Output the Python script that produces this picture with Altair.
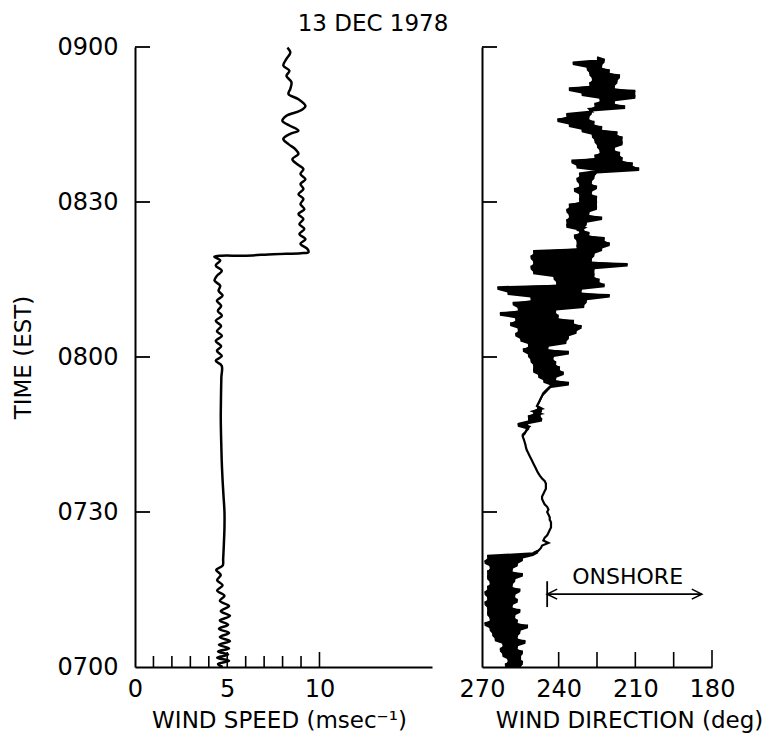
import altair as alt
import pandas as pd

# ---------------- data ----------------
title_text = "13 DEC 1978"
time_ticks = [0, 30, 60, 90, 120]            # minutes after 0700 EST
time_labels = ["0700", "0730", "0800", "0830", "0900"]

# wind speed trace (minutes after 0700, m/s), in drawing order
speed_minutes = [
    0.0, 0.6, 1.2, 1.8, 2.4, 3.0, 3.6, 4.3, 5.0, 5.8, 6.6, 7.4, 8.2, 9.0, 9.9,
    10.8, 11.8, 12.8, 13.8, 14.8, 15.8, 16.8, 17.8, 18.8, 19.6,
    21, 24, 27, 30, 33, 36, 40, 44, 48, 52, 56, 58.3,
    59.3, 60.2, 61.2, 62.1, 63.1, 64.1, 65.0, 66.0, 67.0, 68.0, 68.9, 69.9,
    70.9, 71.9, 72.8, 73.8, 74.8, 75.7, 76.7, 77.7, 78.7, 79.4,
    79.6, 79.6, 79.9, 80.1, 80.25,
    80.9, 81.9, 82.8, 83.8, 84.8, 85.7, 86.7, 87.7, 88.6, 89.6, 90.6, 91.5,
    92.5, 93.5, 94.4, 95.4, 96.4, 97.3, 98.3, 99.3, 100.2, 101.2, 102.2,
    103.2, 103.8, 104.8, 105.7, 106.7, 107.7, 108.6, 109.9, 110.9, 111.9,
    113.2, 114.4, 115.4, 116.4, 117.7, 118.96, 119.9,
]
speed_ms = [
    4.75, 4.5, 5.1, 4.45, 5.05, 4.5, 5.1, 4.55, 5.15, 4.6, 5.1, 4.55, 5.05, 4.6, 5.15,
    4.65, 5.1, 4.6, 4.85, 4.45, 4.75, 4.45, 4.65, 4.4, 4.75,
    4.78, 4.82, 4.85, 4.85, 4.8, 4.75, 4.7, 4.67, 4.65, 4.66, 4.68, 4.7,
    4.38, 4.71, 4.44, 4.67, 4.38, 4.71, 4.44, 4.67, 4.38, 4.71, 4.49, 4.67,
    4.44, 4.75, 4.53, 4.62, 4.31, 4.44, 4.71, 4.38, 4.62, 4.3,
    4.7, 5.9, 7.5, 9.0, 9.4,
    9.35, 8.97, 9.24, 8.91, 9.18, 8.91, 9.13, 8.86, 9.18, 8.97, 9.13, 8.86,
    9.13, 8.97, 9.24, 8.97, 9.13, 8.80, 8.53, 8.86, 8.70, 8.32, 8.04,
    8.42, 8.86, 8.37, 7.99, 8.21, 8.97, 9.24, 8.86, 8.32, 8.42,
    8.48, 8.21, 8.37, 8.04, 8.21, 8.42, 8.26,
]

# wind direction trace (deg), one reading every half minute from 0700
dir_step_minutes = 0.5
dir_deg = [
    # 0700 - 0722
    255, 261, 254, 260, 255, 262, 254, 263, 256, 262,
    253, 265, 256, 266, 255, 267, 252, 269, 256, 267,
    257, 268, 255, 268, 258, 269, 256, 268, 257, 269,
    255, 268, 258, 267, 257, 268, 254, 268, 258, 267,
    256, 269, 254, 268, 250,
    # 0722.5 - 0744.5
    248, 247, 246.5, 244, 246, 245.5, 244.5, 244, 243.5, 243,
    243, 243, 243.5, 243.5, 244, 244.5, 244, 244.5, 245.5, 246,
    246.5, 246.5, 246, 245.5, 245, 245, 245, 245.5, 246.5, 247.3,
    248, 248.5, 249, 249.5, 250, 250.5, 251, 251.5, 252, 252.5,
    252.8, 253, 253.3, 253.6, 254,
    # 0745 - 0759.5
    254, 253, 252.5, 251.5, 256, 252, 246.5, 252, 247, 250,
    246.5, 248.5, 248, 247.5, 247, 246.5, 246, 245, 244, 243,
    236, 246, 241, 248, 238, 250, 239.5, 250, 241, 251,
    # 0800 - 0832
    242, 252, 236, 254, 244, 252, 237, 255, 236, 257,
    233, 256, 231, 259, 234, 257, 240, 263, 241, 256,
    230, 258, 229, 251, 220, 260, 231, 264, 222, 241,
    224, 242, 226, 250, 226, 251, 213, 250, 227, 251,
    226, 250, 223, 233, 220, 233, 222, 234, 228, 232,
    230, 237, 229, 237, 223, 236, 228, 237, 225, 236,
    225, 232, 225, 232, 227,
    # 0832.5 - 0858
    234, 225, 232, 227, 233, 226, 232, 225, 208.5, 233,
    211, 235, 215, 226, 216, 224, 218, 225, 215, 226,
    215, 227, 217, 231, 223, 236, 226, 240.5, 228, 237,
    227, 228, 214, 226, 218, 224, 210, 231, 210, 236,
    218, 228, 217, 227, 216, 228, 220, 229, 223, 234.5,
    222, 225,
]
# quiet (smooth) stretch of the direction record, minutes after 0700
dir_quiet_minutes = [22, 45]

speed_tick_labels = [0, 5, 10]
speed_minor_ticks = [1, 2, 3, 4, 6, 7, 8, 9]
speed_major_ticks = [5, 10]
dir_tick_labels = [270, 240, 210, 180]
dir_minor_ticks = [255, 240, 225, 210, 195]
dir_end_tick = [180]
inner_time_ticks = [30, 60, 90, 120]

onshore_text = "ONSHORE"
onshore_bar_deg = [244.5]
onshore_end_deg = [184]
onshore_minutes = [14.1]
onshore_bar_minutes = [11.6, 16.6]
onshore_text_deg = [213]
onshore_text_minutes = [17.4]

# ---------------- chart ----------------
FONT = "DejaVu Sans"
H = 620
W1 = 297
W2 = 230

speed_df = pd.DataFrame({"minutes": speed_minutes, "speed": speed_ms,
                         "order": list(range(len(speed_ms)))})
dir_df = pd.DataFrame({"minutes": [i * dir_step_minutes for i in range(len(dir_deg))],
                       "deg": dir_deg})

y_scale = alt.Scale(domain=[0, 120], nice=False, zero=False)
xs_scale = alt.Scale(domain=[0, 16.1], nice=False, zero=False)
xd_scale = alt.Scale(domain=[180, 270], nice=False, zero=False, reverse=True)

labels_js = "[" + ",".join("'%s'" % s for s in time_labels) + "]"
ticks_js = "[" + ",".join(str(v) for v in time_ticks) + "]"
time_label_expr = labels_js + "[indexof(" + ticks_js + ", datum.value)]"

common_axis = dict(ticks=False, tickSize=0, grid=False, domain=True,
                   domainColor="black", domainWidth=2,
                   labelFont=FONT, labelFontSize=24, labelColor="black",
                   titleFont=FONT, titleFontSize=23, titleFontWeight="normal",
                   titleColor="black")

left_y_axis = alt.Axis(values=time_ticks, labelExpr=time_label_expr, labelPadding=17,
                       title="TIME (EST)", titleAngle=270, titleX=-112, titleY=310,
                       titleAlign="center", titleBaseline="middle", **common_axis)
left_x_axis = alt.Axis(values=speed_tick_labels, format="d", labelPadding=10,
                       labelFlush=False, title="WIND SPEED (msec⁻¹)",
                       titleX=144, titleY=60, titleAlign="center",
                       titleBaseline="alphabetic", **common_axis)
right_y_axis = alt.Axis(values=time_ticks, labels=False, title="", **common_axis)
right_x_axis = alt.Axis(values=dir_tick_labels, format="d", labelPadding=10,
                        labelFlush=False, title="WIND DIRECTION (deg)",
                        titleX=147, titleY=60, titleAlign="center",
                        titleBaseline="alphabetic", **common_axis)

# ---- left panel: wind speed ----
speed_line = alt.Chart(speed_df).mark_line(
    color="black", strokeWidth=2.5, interpolate="catmull-rom"
).encode(
    x=alt.X("speed:Q", scale=xs_scale, axis=left_x_axis),
    y=alt.Y("minutes:Q", scale=y_scale, axis=left_y_axis),
    order=alt.Order("order:Q"),
)

s_minor = alt.Chart(pd.DataFrame({"speed": speed_minor_ticks})).mark_rule(
    color="black", strokeWidth=1.6
).encode(x=alt.X("speed:Q", scale=xs_scale), y=alt.value(H), y2=alt.value(H - 11))
s_major = alt.Chart(pd.DataFrame({"speed": speed_major_ticks})).mark_rule(
    color="black", strokeWidth=1.6
).encode(x=alt.X("speed:Q", scale=xs_scale), y=alt.value(H), y2=alt.value(H - 15))
s_yticks = alt.Chart(pd.DataFrame({"minutes": inner_time_ticks})).mark_rule(
    color="black", strokeWidth=1.8
).encode(y=alt.Y("minutes:Q", scale=y_scale), x=alt.value(0), x2=alt.value(15))
title_mark = alt.Chart(pd.DataFrame({"txt": [title_text]})).mark_text(
    font=FONT, fontSize=23, color="black", align="center", baseline="alphabetic"
).encode(text="txt:N", x=alt.value(238), y=alt.value(-16))

left = alt.layer(speed_line, s_minor, s_major, s_yticks, title_mark).properties(
    width=W1, height=H)

# ---- right panel: wind direction ----
q0, q1 = dir_quiet_minutes
noisy_base = alt.Chart(dir_df).transform_filter(
    f"datum.minutes <= {q0 + 0.5} || datum.minutes >= {q1 - 0.5}"
).transform_calculate(
    part=f"datum.minutes > {q0 + 0.5} ? 'late' : 'early'"
)
dir_band = noisy_base.transform_window(
    lo="min(deg)", hi="max(deg)", frame=[0, 1], groupby=["part"],
    sort=[alt.SortField("minutes")]
).mark_area(color="black", orient="horizontal", opacity=1).encode(
    x=alt.X("lo:Q", scale=xd_scale, axis=right_x_axis),
    x2="hi:Q",
    y=alt.Y("minutes:Q", scale=y_scale, axis=right_y_axis),
    detail="part:N",
)
dir_noisy = noisy_base.mark_line(color="black", strokeWidth=2.2).encode(
    x=alt.X("deg:Q", scale=xd_scale),
    y=alt.Y("minutes:Q", scale=y_scale),
    detail="part:N",
    order=alt.Order("minutes:Q"),
)
dir_quiet = alt.Chart(dir_df).transform_filter(
    f"datum.minutes >= {q0} && datum.minutes <= {q1}"
).mark_line(color="black", strokeWidth=2.2).encode(
    x=alt.X("deg:Q", scale=xd_scale),
    y=alt.Y("minutes:Q", scale=y_scale),
    order=alt.Order("minutes:Q"),
)
d_minor = alt.Chart(pd.DataFrame({"deg": dir_minor_ticks})).mark_rule(
    color="black", strokeWidth=1.6
).encode(x=alt.X("deg:Q", scale=xd_scale), y=alt.value(H), y2=alt.value(H - 15))
d_end = alt.Chart(pd.DataFrame({"deg": dir_end_tick})).mark_rule(
    color="black", strokeWidth=1.6
).encode(x=alt.X("deg:Q", scale=xd_scale), y=alt.value(H), y2=alt.value(H - 17))
d_yticks = alt.Chart(pd.DataFrame({"minutes": inner_time_ticks})).mark_rule(
    color="black", strokeWidth=1.8
).encode(y=alt.Y("minutes:Q", scale=y_scale), x=alt.value(0), x2=alt.value(15))

on_arrow_df = pd.DataFrame({"deg": onshore_bar_deg, "deg_end": onshore_end_deg,
                            "minutes": onshore_minutes})
on_line = alt.Chart(on_arrow_df).mark_rule(color="black", strokeWidth=1.6).encode(
    x=alt.X("deg:Q", scale=xd_scale), x2="deg_end:Q",
    y=alt.Y("minutes:Q", scale=y_scale))
on_bar = alt.Chart(pd.DataFrame({"deg": onshore_bar_deg,
                                 "minutes": [onshore_bar_minutes[0]],
                                 "minutes_end": [onshore_bar_minutes[1]]})).mark_rule(
    color="black", strokeWidth=1.8).encode(
    x=alt.X("deg:Q", scale=xd_scale),
    y=alt.Y("minutes:Q", scale=y_scale), y2="minutes_end:Q")
on_head_left = alt.Chart(pd.DataFrame({"deg": onshore_bar_deg, "minutes": onshore_minutes})).mark_point(
    shape="M2,-1L0,0L2,1", size=100, filled=False, color="black", strokeWidth=1.6, opacity=1
).encode(x=alt.X("deg:Q", scale=xd_scale), y=alt.Y("minutes:Q", scale=y_scale))
on_head_right = alt.Chart(pd.DataFrame({"deg": onshore_end_deg, "minutes": onshore_minutes})).mark_point(
    shape="M-2,-1L0,0L-2,1", size=100, filled=False, color="black", strokeWidth=1.6, opacity=1
).encode(x=alt.X("deg:Q", scale=xd_scale), y=alt.Y("minutes:Q", scale=y_scale))
on_text = alt.Chart(pd.DataFrame({"deg": onshore_text_deg, "minutes": onshore_text_minutes,
                                  "txt": [onshore_text]})).mark_text(
    font=FONT, fontSize=22, color="black", align="center", baseline="middle"
).encode(x=alt.X("deg:Q", scale=xd_scale),
         y=alt.Y("minutes:Q", scale=y_scale), text="txt:N")

right = alt.layer(dir_band, dir_noisy, dir_quiet, d_minor, d_end, d_yticks, on_line, on_bar,
                  on_head_left, on_head_right, on_text).properties(width=W2, height=H)

chart = alt.hconcat(left, right, spacing=50, bounds="flush").properties(
    padding={"left": 4, "top": 5, "right": 5, "bottom": 5},
    background="white",
).configure_view(stroke=None)

chart.save("out.html", embed_options={"renderer": "svg", "actions": False})
